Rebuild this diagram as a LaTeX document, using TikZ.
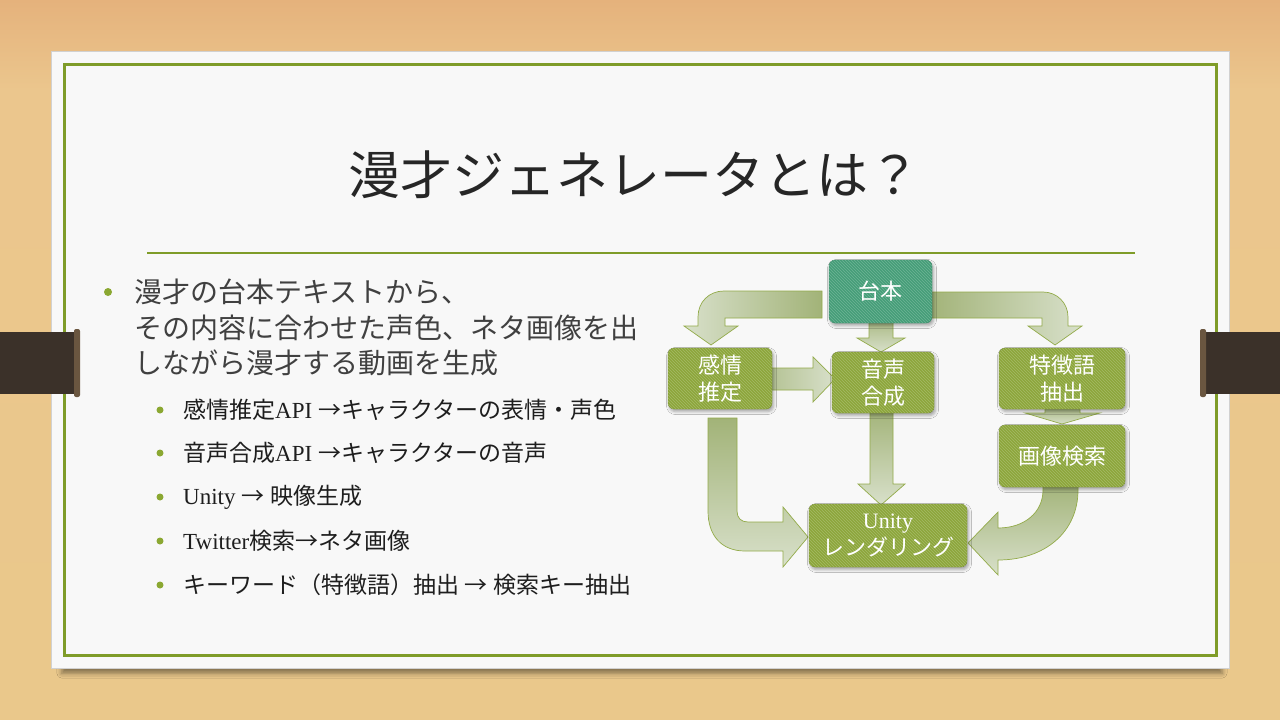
\documentclass[tikz,border=0pt]{standalone}
\usepackage{fontspec}
\setmainfont{Liberation Serif}
\newfontfamily\jp{Noto Sans CJK JP}
\usetikzlibrary{shadows.blur,patterns}
\definecolor{woodA}{HTML}{E5B27C}
\definecolor{woodB}{HTML}{EBC68D}
\definecolor{woodC}{HTML}{EAC88B}
\definecolor{paperc}{HTML}{F8F8F8}
\definecolor{frameg}{HTML}{7F9C29}
\definecolor{boxg}{HTML}{8CA63B}
\definecolor{tealg}{HTML}{459E78}
\definecolor{arrD}{HTML}{A2B378}
\definecolor{arrL}{HTML}{D8E0CA}
\definecolor{arrE}{HTML}{93AB4A}
\definecolor{bandc}{HTML}{3B3129}
\definecolor{bandcap}{HTML}{6A5640}
\definecolor{bulletc}{HTML}{8BA832}
\definecolor{titlec}{HTML}{262626}
\definecolor{maintext}{HTML}{404040}
\definecolor{subtext}{HTML}{1E1E1E}
\newcommand{\arr}{{\jp →}}
\tikzset{
  flowbox/.style={draw=#1!85!black, line width=0.4pt, fill=#1, rounded corners=6pt,
    text=white, align=center, inner sep=0pt,
    font=\jp\fontsize{22}{27}\selectfont,
    blur shadow={shadow xshift=1.5pt, shadow yshift=-2.5pt, shadow blur radius=3pt, shadow opacity=35},
    postaction={pattern=north west lines, pattern color=white!22!#1}},
  blockarrow/.style={draw=arrE, line width=0.7pt},
  bdot/.style={circle, fill=bulletc, inner sep=0pt, minimum size=#1},
  mainline/.style={anchor=west, inner sep=0pt, text=maintext, font=\jp\fontsize{28}{34}\selectfont},
  subline/.style={anchor=west, inner sep=0pt, text=subtext, font=\fontsize{23}{28}\selectfont},
}
\begin{document}
\begin{tikzpicture}[x=1pt,y=-1pt]
\useasboundingbox (0,0) rectangle (1280,720);
% wood background
\shade[top color=woodA, bottom color=woodB] (0,0) rectangle (1280,90);
\shade[top color=woodB, bottom color=woodC] (0,90) rectangle (1280,720);
% paper
\fill[paperc, blur shadow={shadow xshift=2pt, shadow yshift=-10pt, shadow scale=0.985, shadow blur radius=5pt, shadow opacity=45}] (51,51) rectangle (1229,668);
\draw[black!18, line width=0.5pt] (51,51) rectangle (1229,668);
% frame
\draw[frameg, line width=3pt] (64,64) rectangle (1216,655);
% bands
\fill[bandc] (0,332) rectangle (76,394);
\fill[bandcap, rounded corners=2pt] (74,329) rectangle (80,397);
\fill[bandc] (1204,332) rectangle (1280,394);
\fill[bandcap, rounded corners=2pt] (1200,329) rectangle (1206,397);
% title
\node[text=titlec, font=\jp\fontsize{52}{60}\selectfont, inner sep=0pt] (title) at (634,175) {漫才ジェネレータとは？};
\draw[frameg, line width=1.5pt] (147,253) -- (1135,253);
% main bullet
\node[bdot=8pt] (b0) at (108,292) {};
\node[mainline] (m1) at (134,292) {漫才の台本テキストから、};
\node[mainline] (m2) at (134,328) {その内容に合わせた声色、ネタ画像を出};
\node[mainline] (m3) at (134,363) {しながら漫才する動画を生成};
% sub bullets
\node[bdot=7pt] (d1) at (160,410) {};
\node[subline] (s1) at (183,410) {{\jp 感情推定}API \arr{\jp キャラクターの表情・声色}};
\node[bdot=7pt] (d2) at (160,453) {};
\node[subline] (s2) at (183,453) {{\jp 音声合成}API \arr{\jp キャラクターの音声}};
\node[bdot=7pt] (d3) at (160,497) {};
\node[subline] (s3) at (183,497) {Unity \arr\ {\jp 映像生成}};
\node[bdot=7pt] (d4) at (160,541) {};
\node[subline] (s4) at (183,541) {Twitter{\jp 検索}\arr{\jp ネタ画像}};
\node[bdot=7pt] (d5) at (160,585) {};
\node[subline] (s5) at (183,585) {{\jp キーワード（特徴語）抽出} \arr\ {\jp 検索キー抽出}};
% block arrows
\shadedraw[blockarrow, left color=arrL, right color=arrD]
  (822,291) -- (724,291) .. controls (709,291) and (698,302) .. (698,317) -- (698,326)
  -- (684,326) -- (711,345) -- (738,326) -- (725,326) -- (725,318) -- (822,318) -- cycle;
\shadedraw[blockarrow, left color=arrD, right color=arrL]
  (928,292) -- (1043,292) .. controls (1057,292) and (1068,303) .. (1068,317) -- (1068,326)
  -- (1082,326) -- (1055,345) -- (1028,326) -- (1042,326) -- (1042,318) -- (928,318) -- cycle;
\shadedraw[blockarrow, top color=arrD, bottom color=arrL]
  (869,315) -- (869,338) -- (857,338) -- (881,352) -- (905,338) -- (893,338) -- (893,315) -- cycle;
\shadedraw[blockarrow, left color=arrD!70!arrL, right color=arrL]
  (765,368) -- (813,368) -- (813,357) -- (835,379) -- (813,402) -- (813,390) -- (765,390) -- cycle;
\shadedraw[blockarrow, top color=arrD, bottom color=arrL]
  (870,408) -- (870,484) -- (858,484) -- (881,505) -- (905,484) -- (893,484) -- (893,408) -- cycle;
\shadedraw[blockarrow, top color=arrD, bottom color=arrL]
  (708,418) -- (708,511) .. controls (708,535) and (721,551) .. (745,551) -- (783,551)
  -- (783,567) -- (808,537) -- (783,507) -- (783,522) -- (748,522)
  .. controls (741,522) and (737,518) .. (737,511) -- (737,418) -- cycle;
\shadedraw[blockarrow, top color=arrD, bottom color=arrL]
  (1043,482) -- (1078,482) -- (1078,490) .. controls (1078,532) and (1045,560) .. (998,560)
  -- (998,575) -- (968,543) -- (998,512) -- (998,528)
  .. controls (1025,528) and (1043,512) .. (1043,490) -- cycle;
\shadedraw[blockarrow, top color=arrD, bottom color=arrL]
  (1045,405) -- (1080,405) -- (1080,413) -- (1100,413) -- (1062,424) -- (1025,413) -- (1045,413) -- cycle;
% boxes
\node[flowbox=tealg, minimum width=103pt, minimum height=63pt] (daihon) at (880.5,291.5) {台本};
\node[flowbox=boxg, minimum width=104pt, minimum height=61pt] (kanjo) at (720,378.5) {感情\\推定};
\node[flowbox=boxg, minimum width=102pt, minimum height=61pt] (onsei) at (883,382.5) {音声\\合成};
\node[flowbox=boxg, minimum width=126pt, minimum height=61pt] (tokucho) at (1062,378.5) {特徴語\\抽出};
\node[flowbox=boxg, minimum width=126pt, minimum height=62pt] (gazo) at (1062,456) {画像検索};
\node[flowbox=boxg, minimum width=158pt, minimum height=63pt] (unity) at (888,535.5) {{\rmfamily Unity}\\レンダリング};
\end{tikzpicture}
\end{document}
